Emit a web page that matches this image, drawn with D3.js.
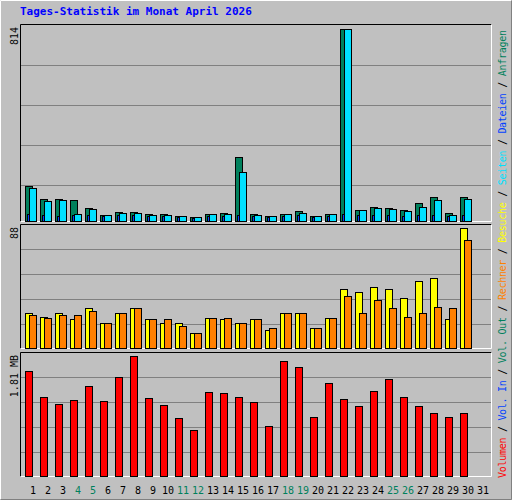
<!DOCTYPE html>
<html>
<head>
<meta charset="utf-8">
<script src="https://cdn.jsdelivr.net/npm/d3@7"></script>
<style>
  body { margin: 0; background: #fff; }
  svg { display: block; }
  text { font-family: "DejaVu Sans Mono", monospace; }
</style>
</head>
<body>
<div id="chart"></div>
<script>
const days = d3.range(1, 32);
const weekend = [4, 5, 11, 12, 18, 19, 25, 26];

const hits  = [148, 93, 93, 89, 55, 25, 38, 38, 30, 30, 21, 17, 30, 34, 271, 30, 21, 30, 42, 21, 30, 814, 47, 59, 55, 47, 76, 102, 34, 102, 0];
const files = [30, 25, 21, 25, 25, 21, 25, 25, 21, 21, 17, 13, 21, 21, 25, 21, 17, 21, 25, 17, 21, 30, 25, 25, 25, 21, 25, 25, 21, 25, 0];
const pages = [139, 85, 89, 30, 51, 25, 34, 34, 25, 25, 21, 17, 30, 30, 208, 25, 21, 30, 34, 21, 30, 814, 47, 55, 51, 42, 59, 89, 25, 93, 0];

const visits = [26, 23, 26, 21, 29, 18, 26, 29, 21, 18, 18, 11, 22, 21, 18, 21, 13, 26, 26, 15, 22, 43, 41, 45, 43, 37, 49, 51, 21, 88, 0];
const sites  = [24, 22, 24, 24, 27, 18, 26, 29, 21, 21, 16, 11, 22, 22, 18, 21, 15, 26, 26, 15, 22, 38, 26, 35, 29, 23, 26, 30, 29, 79, 0];

const volume = [1.59, 1.19, 1.08, 1.14, 1.35, 1.13, 1.49, 1.81, 1.17, 1.07, 0.87, 0.69, 1.26, 1.25, 1.19, 1.11, 0.76, 1.73, 1.65, 0.89, 1.41, 1.16, 1.05, 1.28, 1.46, 1.19, 1.05, 0.95, 0.89, 0.95, 0];

const W = 512, H = 500;
const svg = d3.select("#chart").append("svg").attr("width", W).attr("height", H);

// background and 3D border
svg.append("rect").attr("width", W).attr("height", H).attr("fill", "#c0c0c0");
svg.append("path").attr("d", `M0.5,${H - 0.5}V0.5H${W - 0.5}`).attr("stroke", "#fff").attr("fill", "none");
svg.append("path").attr("d", `M0.5,${H - 0.5}H${W - 0.5}V0.5`).attr("stroke", "#808080").attr("fill", "none");

svg.append("text")
  .attr("x", 20).attr("y", 15)
  .attr("fill", "#0000ff").attr("font-weight", "bold").attr("font-size", 11)
  .text("Tages-Statistik im Monat April 2026");

const x = d3.scaleLinear().domain([1, 31]).range([25, 475]);

const panels = [
  { top: 24, bottom: 221, maxY: 29, grid: 25, step: 40, label: "814" },
  { top: 224, bottom: 348, maxY: 228, grid: 224, step: 25, label: "88" },
  { top: 352, bottom: 476, maxY: 356, grid: 352, step: 25, label: "1.81 MB" }
];

panels.forEach(p => {
  const g = svg.append("g");
  d3.range(1, 5).forEach(i => {
    g.append("line")
      .attr("x1", 21).attr("x2", 491)
      .attr("y1", p.grid + p.step * i + 0.5)
      .attr("y2", p.grid + p.step * i + 0.5)
      .attr("stroke", "#808080");
  });
  g.append("path").attr("d", `M20.5,${p.bottom + 0.5}V${p.top + 0.5}H491.5`).attr("stroke", "#000").attr("fill", "none");
  g.append("path").attr("d", `M20.5,${p.bottom + 0.5}H491.5V${p.top + 0.5}`).attr("stroke", "#fff").attr("fill", "none");
  g.append("text")
    .attr("transform", `translate(18,${p.top + 3}) rotate(-90)`)
    .attr("text-anchor", "end").attr("font-size", 10).attr("fill", "#000")
    .text(p.label);
});

function bars(data, max, panel, dx, w, color) {
  const y = d3.scaleLinear().domain([0, max]).range([panel.bottom, panel.maxY]);
  svg.append("g").selectAll("rect")
    .data(days.filter((d, i) => data[i] > 0))
    .join("rect")
    .attr("x", d => x(d) + dx + 0.5)
    .attr("y", d => Math.round(y(data[d - 1])) + 0.5)
    .attr("width", w)
    .attr("height", d => panel.bottom - Math.round(y(data[d - 1])))
    .attr("fill", color)
    .attr("stroke", "#000");
}

bars(hits, 814, panels[0], 0, 7, "#00805c");
bars(files, 814, panels[0], 2, 7, "#0040ff");
bars(pages, 814, panels[0], 4, 7, "#00e0ff");

bars(visits, 88, panels[1], 0, 7, "#ffff00");
bars(sites, 88, panels[1], 4, 7, "#ff8000");

bars(volume, 1.81, panels[2], 0, 7, "#ff0000");

// day labels
svg.append("g").selectAll("text")
  .data(days)
  .join("text")
  .attr("x", d => x(d) + 8)
  .attr("y", 494)
  .attr("text-anchor", "middle")
  .attr("font-size", 10)
  .attr("fill", d => weekend.includes(d) ? "#00805c" : "#000")
  .text(d => d);

// right side legend
const legend = [
  ["Volumen", "#ff0000"], ["Vol. In", "#0040ff"], ["Vol. Out", "#00805c"],
  ["Rechner", "#ff8000"], ["Besuche", "#ffff00"], ["Seiten", "#00e0ff"],
  ["Dateien", "#0040ff"], ["Anfragen", "#00805c"]
];
const lt = svg.append("text")
  .attr("transform", "translate(506,478) rotate(-90)")
  .attr("font-size", 10)
  .attr("textLength", 448)
  .attr("lengthAdjust", "spacing");
legend.forEach(([t, c], i) => {
  if (i > 0) lt.append("tspan").attr("fill", "#000").text(" / ");
  lt.append("tspan").attr("fill", c).text(t);
});
</script>
</body>
</html>
